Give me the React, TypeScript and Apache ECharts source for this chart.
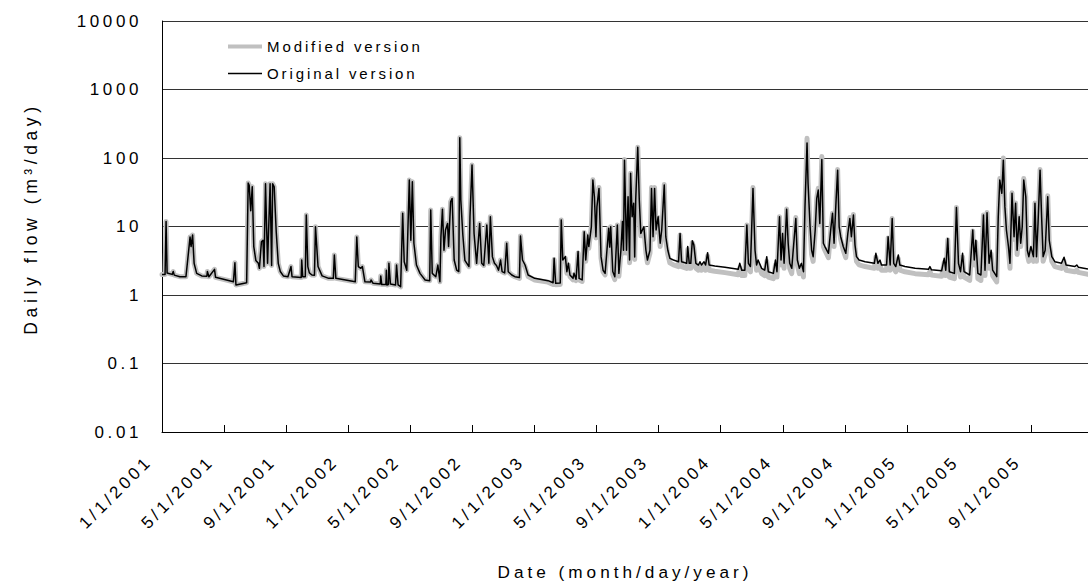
import React, { useEffect, useRef } from "react";
import * as echarts from "echarts";

// x tick labels (every 4 months from 1 Jan 2001)
const tickLabels = [
  "1/1/2001", "5/1/2001", "9/1/2001", "1/1/2002", "5/1/2002", "9/1/2002",
  "1/1/2003", "5/1/2003", "9/1/2003", "1/1/2004", "5/1/2004", "9/1/2004",
  "1/1/2005", "5/1/2005", "9/1/2005",
];
const TICK_STEP_DAYS = 121.75;
const LAST_DAY = 1816;

// [day since 1 Jan 2001, original flow, modified flow] (m3/day)
const flow2001 = [
  [0, 2.0, 2.0], [6, 2.0, 2.0], [8, 11.8, 11.8], [10, 2.1, 2.1], [20, 2.0, 2.0], [22, 2.2, 2.2],
  [24, 1.95, 1.95], [35, 1.85, 1.85], [47, 1.85, 1.85], [55, 7.0, 7.0], [57, 5.1, 5.1], [60, 7.5, 7.5],
  [63, 2.9, 2.9], [68, 2.07, 2.07], [78, 1.9, 1.9], [88, 1.88, 1.88], [89, 2.2, 2.2], [92, 1.85, 1.85],
  [103, 2.37, 2.37], [105, 1.81, 1.81], [140, 1.56, 1.56], [143, 2.96, 2.96], [145, 1.4, 1.4],
  [166, 1.51, 1.51], [169, 43, 43], [171, 40, 40], [174, 17, 17], [177, 38, 38], [180, 5.1, 5.1],
  [184, 3.2, 3.2], [189, 2.9, 2.9], [191, 2.45, 2.45], [195, 6.0, 6.0], [198, 6.3, 6.3], [200, 2.6, 2.6],
  [203, 42, 42], [207, 2.9, 2.9], [212, 42, 42], [215, 2.7, 2.7], [217, 42, 42], [220, 38, 38],
  [224, 8.4, 8.4], [228, 2.9, 2.9], [232, 2.2, 2.2], [238, 1.9, 1.9], [247, 1.85, 1.85], [253, 2.6, 2.6],
  [255, 1.85, 1.85], [273, 1.8, 1.8], [274, 3.24, 3.24], [276, 1.85, 1.85], [281, 1.85, 1.85],
  [283, 14.7, 14.7], [286, 2.6, 2.6], [289, 2.1, 2.1], [294, 1.96, 1.96], [299, 1.95, 1.95],
  [301, 9.9, 9.9], [306, 2.6, 2.6], [314, 1.9, 1.9], [327, 1.75, 1.75], [336, 1.75, 1.75],
  [338, 3.84, 3.84], [341, 1.75, 1.75],
];
const flow2002 = [
  [379, 1.56, 1.56], [382, 7.0, 7.0], [385, 2.6, 2.6], [390, 2.45, 2.45], [393, 2.6, 2.6],
  [398, 1.56, 1.56], [409, 1.55, 1.55], [410, 1.66, 1.66], [414, 1.48, 1.48], [428, 1.45, 1.45],
  [429, 1.9, 1.9], [431, 1.42, 1.42], [439, 1.42, 1.42], [440, 2.3, 2.3], [441, 1.4, 1.4],
  [444, 1.42, 1.42], [445, 2.9, 2.9], [448, 1.45, 1.45], [458, 1.4, 1.4], [460, 2.74, 2.74],
  [463, 1.4, 1.4], [468, 1.32, 1.32], [472, 15.6, 15.6], [475, 3.06, 3.06], [480, 2.3, 2.3],
  [485, 47.7, 47.7], [488, 6.3, 6.3], [491, 45, 45], [494, 5.7, 5.7], [499, 2.74, 2.74],
  [506, 2.07, 2.07], [516, 1.66, 1.66], [525, 1.62, 1.62], [527, 17.4, 17.4], [530, 2.07, 2.07],
  [537, 1.85, 1.85], [541, 2.74, 2.74], [545, 1.56, 1.56], [547, 7.1, 7.1], [550, 17.8, 17.8],
  [553, 4.5, 4.5], [556, 8.9, 8.9], [560, 11.1, 11.1], [562, 5.1, 5.1], [566, 23, 23],
  [569, 25.7, 25.7], [573, 3.24, 3.24], [578, 2.3, 2.3], [582, 2.2, 2.2], [584, 198, 198],
  [586, 24.5, 24.5], [590, 7.5, 7.5], [594, 3.2, 3.2], [602, 2.6, 2.6], [604, 13.9, 13.9],
  [608, 79, 79], [612, 7.9, 7.9], [617, 2.9, 2.9], [623, 11.1, 11.1], [627, 2.9, 2.9],
  [631, 2.7, 2.7], [637, 10.5, 10.5], [641, 2.9, 2.9], [644, 13.9, 13.9], [648, 3.6, 3.6],
  [652, 2.9, 2.9], [656, 2.7, 2.7], [660, 2.3, 2.3], [664, 3.24, 3.24], [667, 2.19, 2.19],
  [672, 2.1, 2.1], [676, 5.7, 5.7], [679, 2.19, 2.19], [686, 1.96, 1.96], [692, 1.85, 1.85],
  [701, 1.8, 1.75], [703, 7.25, 7.25], [707, 3.24, 3.1], [712, 2.74, 2.6], [718, 1.96, 1.86],
];
const flow2003 = [
  [731, 1.75, 1.66], [757, 1.62, 1.54], [767, 1.51, 1.43], [769, 3.43, 3.3], [772, 1.48, 1.41],
  [781, 1.5, 1.42], [783, 12.4, 12.4], [786, 3.24, 3.1], [791, 3.63, 3.45], [794, 2.19, 2.08],
  [797, 2.9, 2.75], [800, 1.96, 1.86], [806, 1.75, 1.66], [808, 2.07, 1.97], [812, 1.7, 1.62],
  [816, 4.3, 4.1], [818, 1.75, 1.66], [824, 1.66, 1.58], [828, 8.4, 8.2], [831, 3.24, 3.1],
  [835, 7.5, 7.3], [837, 5.1, 4.8], [842, 9.9, 9.9], [845, 47.7, 48], [848, 27.2, 27],
  [851, 7.1, 6.8], [853, 19.5, 19.5], [857, 36, 37], [861, 3.63, 3.45], [865, 2.3, 2.18],
  [869, 2.07, 1.97], [876, 9.4, 9.4], [878, 5.0, 4.7], [880, 9.9, 9.9], [884, 2.2, 2.0],
  [888, 1.85, 1.68], [893, 10.5, 10.5], [896, 2.07, 1.88], [900, 4.5, 4.1], [903, 11.8, 11.8],
  [905, 4.5, 4.1], [907, 93, 95], [911, 4.5, 4.1], [914, 27.2, 27], [917, 3.24, 2.95],
  [919, 60, 60], [922, 13.9, 13.5], [925, 21.8, 21.8], [927, 3.6, 3.3], [929, 24.5, 24.5],
  [933, 143, 143], [936, 24.5, 24], [939, 7.9, 7.3], [942, 8.9, 8.3], [945, 9.9, 9.4],
  [949, 4.5, 4.1], [952, 3.24, 2.95], [957, 4.5, 4.1], [960, 36, 37], [963, 7.1, 6.5],
  [966, 36, 37], [969, 8.9, 8.3], [973, 13.9, 13.5], [977, 5.7, 5.1], [980, 8.9, 8.3],
  [985, 40.4, 41], [988, 7.1, 6.2], [992, 4.5, 3.9], [996, 3.43, 2.95], [1003, 3.24, 2.75],
  [1013, 3.06, 2.6], [1016, 7.9, 7.5], [1019, 3.06, 2.6], [1029, 2.9, 2.45], [1031, 5.1, 4.6],
  [1034, 2.9, 2.45], [1037, 2.9, 2.45], [1040, 6.2, 5.8], [1043, 5.4, 4.9], [1047, 2.9, 2.45],
  [1052, 2.74, 2.3], [1055, 3.06, 2.6], [1058, 2.74, 2.3], [1063, 3.06, 2.6], [1066, 2.74, 2.3],
  [1070, 4.15, 3.7], [1073, 2.74, 2.3], [1084, 2.65, 2.22],
];
const flow2004 = [
  [1104, 2.54, 2.12], [1130, 2.37, 1.98], [1133, 2.9, 2.5], [1137, 2.3, 1.92], [1143, 2.3, 1.92],
  [1147, 10.5, 10.5], [1150, 2.9, 2.45], [1154, 2.6, 2.18], [1159, 36, 37], [1163, 4.5, 3.9],
  [1166, 2.74, 2.3], [1169, 3.24, 2.75], [1176, 2.45, 2.05], [1182, 2.3, 1.92], [1186, 3.63, 3.1],
  [1189, 2.19, 1.83], [1199, 2.07, 1.73], [1203, 3.24, 2.75], [1206, 2.19, 1.83], [1211, 13.9, 13.9],
  [1214, 3.24, 2.75], [1217, 7.9, 7.6], [1220, 2.9, 2.45], [1225, 17.8, 18], [1228, 5.7, 5.1],
  [1231, 2.9, 2.45], [1235, 2.45, 2.05], [1243, 13.1, 13.5], [1246, 3.24, 2.75], [1250, 2.45, 2.05],
  [1254, 2.9, 2.45], [1258, 2.19, 1.83], [1261, 19.5, 19.5], [1265, 165, 194], [1267, 42.6, 45],
  [1271, 9.9, 9.4], [1274, 4.5, 3.9], [1277, 3.63, 3.1], [1281, 8.9, 8.5], [1284, 25.7, 26],
  [1287, 34, 36], [1290, 11.1, 10.5], [1294, 95, 105], [1297, 5.7, 5.1], [1300, 5.1, 4.5],
  [1307, 4.06, 3.5], [1312, 9.9, 9.6], [1315, 15.6, 15.6], [1318, 5.7, 5.1], [1322, 24.5, 24.5],
  [1325, 66.5, 68], [1328, 9.9, 9.4], [1331, 7.1, 6.5], [1336, 5.1, 4.5], [1341, 4.06, 3.5],
  [1345, 7.9, 7.6], [1349, 13.1, 13.5], [1352, 7.1, 6.5], [1356, 14.7, 15], [1359, 5.4, 4.8],
  [1362, 3.63, 3.1], [1367, 3.24, 2.75], [1379, 3.06, 2.6], [1397, 2.9, 2.45], [1400, 4.06, 3.6],
  [1404, 2.9, 2.45], [1408, 3.24, 2.75], [1411, 2.74, 2.3], [1421, 2.74, 2.3], [1424, 7.1, 6.8],
  [1428, 2.74, 2.3], [1432, 13.1, 13.1], [1435, 2.9, 2.45], [1439, 2.6, 2.18], [1444, 3.84, 3.4],
  [1447, 2.74, 2.3], [1457, 2.6, 2.18],
];
const flow2005 = [
  [1477, 2.45, 2.05], [1503, 2.37, 1.98], [1506, 2.6, 2.2], [1509, 2.33, 1.95], [1529, 2.26, 1.88],
  [1534, 3.43, 3.0], [1537, 2.3, 1.92], [1541, 6.7, 6.4], [1544, 2.19, 1.83], [1554, 2.07, 1.73],
  [1558, 19, 19], [1562, 2.9, 2.45], [1566, 2.19, 1.83], [1570, 4.06, 3.6], [1573, 2.19, 1.83],
  [1584, 1.96, 1.63], [1590, 8.9, 8.6], [1593, 3.24, 2.75], [1596, 6.3, 5.9], [1600, 2.07, 1.73],
  [1606, 1.96, 1.63], [1611, 14.7, 14.7], [1614, 2.3, 1.92], [1618, 15.9, 16], [1622, 2.9, 2.45],
  [1626, 4.5, 4.0], [1629, 2.3, 1.92], [1637, 1.85, 1.55], [1640, 13.9, 13.5], [1643, 47.7, 50],
  [1647, 30.5, 30], [1650, 93, 100], [1653, 19.5, 19], [1656, 8.9, 8.3], [1660, 5.1, 4.5],
  [1663, 2.9, 2.45], [1667, 30.5, 31], [1671, 7.1, 6.5], [1674, 21.8, 22], [1677, 4.5, 3.9],
  [1681, 13.9, 13.9], [1684, 5.7, 5.1], [1687, 9.9, 9.6], [1690, 47.7, 50], [1694, 27.2, 27],
  [1697, 4.5, 3.9], [1700, 3.63, 3.1], [1704, 5.1, 4.6], [1709, 3.63, 3.1], [1712, 21.8, 22],
  [1715, 3.63, 3.1], [1718, 11.1, 10.8], [1722, 66.5, 68], [1725, 13.9, 13.5], [1728, 3.63, 3.1],
  [1732, 4.5, 3.9], [1737, 27.2, 28], [1740, 6.3, 5.7], [1745, 3.63, 3.1], [1751, 3.06, 2.6],
  [1764, 2.9, 2.45], [1769, 3.56, 3.1], [1773, 2.74, 2.3], [1790, 2.6, 2.18], [1794, 2.74, 2.3],
  [1797, 2.55, 2.14], [1816, 2.4, 2.0],
];

const FONT = '"Liberation Sans", Arial, Helvetica, sans-serif';

export default function App() {
  const ref = useRef<HTMLDivElement>(null);

  useEffect(() => {
    if (!ref.current) return;
    const chart = echarts.init(ref.current, null, { renderer: "svg" });
    const rows = [...flow2001, ...flow2002, ...flow2003, ...flow2004, ...flow2005];
    const original = rows.map((r) => [r[0], r[1]]);
    const modified = rows.map((r) => [r[0], r[2]]);

    chart.setOption({
      animation: false,
      textStyle: { fontFamily: FONT, color: "#000" },
      grid: {
        left: 162, right: 0, top: 21, bottom: 153,
        containLabel: false, outerBoundsMode: "none",
      },
      legend: [
        {
          data: ["Modified version"], left: 228, top: 39, padding: 0,
          itemWidth: 34, itemHeight: 4, icon: "rect", selectedMode: false,
          textStyle: { fontSize: 15, color: "#000", fontFamily: FONT },
        },
        {
          data: ["Original version"], left: 228, top: 66, padding: 0,
          itemWidth: 34, itemHeight: 1.5, icon: "rect", selectedMode: false,
          textStyle: { fontSize: 15, color: "#000", fontFamily: FONT },
        },
      ],
      xAxis: {
        type: "value",
        min: 0,
        max: LAST_DAY,
        interval: TICK_STEP_DAYS,
        axisLine: { show: true, lineStyle: { color: "#000", width: 1 } },
        axisTick: { show: true, inside: true, length: 7, lineStyle: { color: "#000" } },
        splitLine: { show: false },
        axisLabel: {
          rotate: 45, fontSize: 17, color: "#000", margin: 14,
          padding: [0, 18, 0, 0], fontFamily: FONT, showMaxLabel: false,
          formatter: (v: number) => {
            const i = Math.round(v / TICK_STEP_DAYS);
            if (Math.abs(v - i * TICK_STEP_DAYS) > 0.5) return "";
            return tickLabels[i] ?? "";
          },
        },
        name: "Date (month/day/year)",
        nameLocation: "middle",
        nameGap: 131,
        nameTextStyle: { fontSize: 17.2, color: "#000", fontFamily: FONT },
      },
      yAxis: {
        type: "log",
        logBase: 10,
        min: 0.01,
        max: 10000,
        splitNumber: 6,
        axisLine: { show: true, lineStyle: { color: "#000", width: 1 } },
        axisTick: { show: false },
        splitLine: { show: true, lineStyle: { color: "#333", width: 1 } },
        axisLabel: {
          fontSize: 17, color: "#000", margin: 20, fontFamily: FONT,
          formatter: (v: number) => (v >= 1 ? String(Math.round(v)) : String(Number(v.toPrecision(1)))),
        },
        name: "Daily flow (m³/day)",
        nameLocation: "middle",
        nameGap: 122,
        nameRotate: 90,
        nameTextStyle: {
          fontSize: 17.5, color: "#000", fontFamily: FONT, padding: [0, 0, 0, 16],
        },
      },
      series: [
        {
          type: "line", name: "Modified version", data: modified, symbol: "none",
          color: "#c0c0c0", itemStyle: { color: "#c0c0c0" },
          lineStyle: { color: "#c0c0c0", width: 5, join: "round", cap: "round" },
          z: 2,
        },
        {
          type: "line", name: "Original version", data: original, symbol: "none",
          color: "#000", itemStyle: { color: "#000" },
          lineStyle: { color: "#000", width: 1.5, join: "round" },
          z: 3,
        },
      ],
    });
    return () => chart.dispose();
  }, []);

  return (
    <>
      <style>{`.flow-chart text { letter-spacing: 3.6px; }
.flow-chart text[style*="15px"] { letter-spacing: 2.9px; }
.flow-chart text[style*="17.2px"] { letter-spacing: 4px; }
.flow-chart text[style*="17.5px"] { letter-spacing: 4.6px; }`}</style>
      <div
        ref={ref}
        className="flow-chart"
        style={{ position: "absolute", left: 0, top: 0, width: 1088, height: 585, background: "#fff" }}
      />
    </>
  );
}
